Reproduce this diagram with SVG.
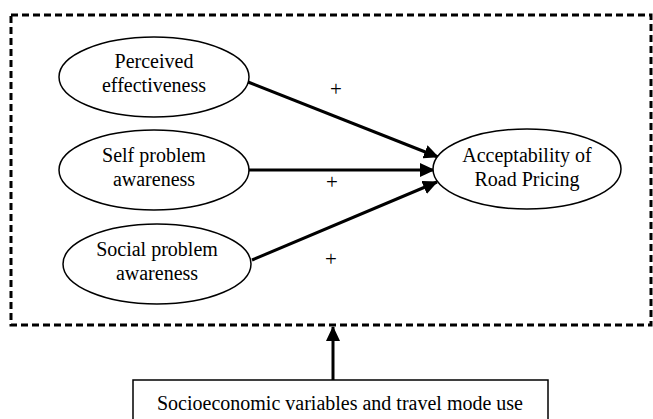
<svg xmlns="http://www.w3.org/2000/svg" width="653" height="419" viewBox="0 0 653 419">
<style>
.t{font-family:"Liberation Serif","Times New Roman",serif;font-size:20px;fill:#000;text-anchor:middle}
.p{font-family:"Liberation Serif","Times New Roman",serif;font-size:21px;fill:#000;text-anchor:middle}
.e{fill:#fff;stroke:#000;stroke-width:1.5}
.c{stroke:#000;stroke-width:3;fill:none}
</style>
<defs>
<marker id="ah" markerUnits="userSpaceOnUse" markerWidth="15" markerHeight="14" refX="14" refY="7" orient="auto">
<path d="M0,0 L15,7 L0,14 Z" fill="#000"/>
</marker>
</defs>
<rect x="11" y="15" width="640" height="310" fill="none" stroke="#000" stroke-width="3" stroke-dasharray="7,4"/>
<g id="connectors">
<line class="c" x1="248" y1="82" x2="438" y2="157" marker-end="url(#ah)"/>
<line class="c" x1="248" y1="170" x2="434" y2="170" marker-end="url(#ah)"/>
<line class="c" x1="252" y1="260" x2="437" y2="182" marker-end="url(#ah)"/>
<line class="c" x1="333" y1="381" x2="333" y2="327" marker-end="url(#ah)"/>
<text class="p" x="336" y="96">+</text>
<text class="p" x="332" y="189">+</text>
<text class="p" x="331" y="266">+</text>
</g>
<g id="perceived">
<ellipse class="e" cx="154" cy="77" rx="95" ry="40"/>
<text class="t" x="154" y="68">Perceived</text>
<text class="t" x="154" y="92">effectiveness</text>
</g>
<g id="self">
<ellipse class="e" cx="154" cy="170" rx="95" ry="40"/>
<text class="t" x="154" y="162">Self problem</text>
<text class="t" x="154" y="186">awareness</text>
</g>
<g id="social">
<ellipse class="e" cx="157" cy="264" rx="94" ry="40"/>
<text class="t" x="157" y="256">Social problem</text>
<text class="t" x="157" y="280">awareness</text>
</g>
<g id="acceptability">
<ellipse class="e" cx="527" cy="169" rx="94" ry="40"/>
<text class="t" x="527" y="162">Acceptability of</text>
<text class="t" x="527" y="186">Road Pricing</text>
</g>
<g id="socio">
<rect x="133" y="380" width="415" height="45" fill="#fff" stroke="#000" stroke-width="1.5"/>
<text class="t" x="340" y="410">Socioeconomic variables and travel mode use</text>
</g>
</svg>
